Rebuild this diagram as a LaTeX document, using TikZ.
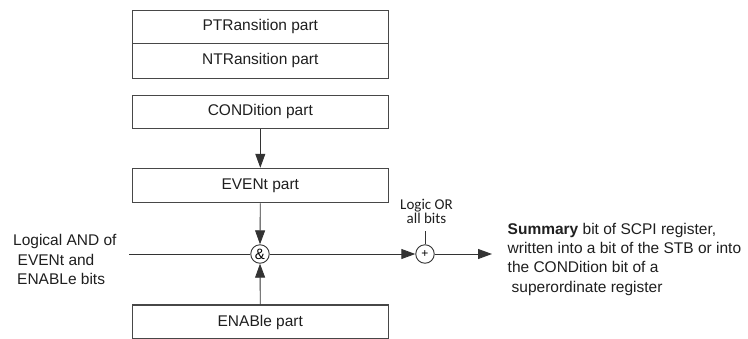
\documentclass[tikz,border=0pt]{standalone}
\usepackage{fontspec}
\setmainfont{Liberation Sans}
\newfontfamily\calib{Carlito}
\usetikzlibrary{arrows.meta}
\begin{document}
\begin{tikzpicture}[x=1pt,y=-1pt,
  box/.style={draw=black!72, line width=1.1pt, minimum width=256pt, inner sep=0pt,
    font=\fontsize{15.5}{18}\selectfont, text=black!88},
  gate/.style={circle, draw=black!80, line width=0.9pt, minimum size=18.5pt, inner sep=0pt},
  conn/.style={draw=black!80, line width=0.9pt},
  arr/.style={conn, -{Triangle[length=14pt,width=10pt]}},
  lbl/.style={inner sep=0pt, font=\fontsize{15.5}{19.3}\selectfont, align=left, text=black!88}]
\clip (0,0) rectangle (748,338);
\fill[white] (0,0) rectangle (748,338);
% boxes
\node[box, minimum height=33.3pt] (pt) at (260.3,26.7) {PTRansition part};
\node[box, minimum height=35pt] (nt) at (260.3,60.8) {NTRansition part};
\node[box, minimum height=33.3pt] (cond) at (260.3,111.7) {CONDition part};
\node[box, minimum height=34.4pt] (ev) at (260.3,185.5) {EVENt part};
\node[box, minimum height=34pt] (en) at (260.3,322) {ENABle part};
% gates
\node[gate, font=\fontsize{15}{15}\selectfont] (and) at (260,254) {\&};
\node[gate, font=\fontsize{12}{12}\selectfont] (or) at (425,254) {+};
% free ends
\coordinate (in) at (129,254);
\coordinate (out) at (492,254);
\coordinate (orlab) at (425,231);
% labels
\node[lbl, anchor=north west] (andlbl) at (13,234.3)
  {Logical AND of\\\hspace*{4.5pt}EVENt and\\\hspace*{4pt}ENABLe bits};
\node[lbl, anchor=north west] (sumlbl) at (507.5,222.7)
  {\textbf{Summary} bit of SCPI register,\\written into a bit of the STB or into\\the CONDition bit of a\\\hspace*{4pt}superordinate register};
\node[inner sep=0pt, align=center, anchor=south, font=\calib\fontsize{15}{14.3}\selectfont, text=black!88] (orlbl) at (426.5,224)
  {Logic OR\\all bits};
% connectors
\draw[arr] (cond.south) -- (ev.north);
\draw[arr] (ev.south) -- (and.north);
\draw[arr] (en.north) -- (and.south);
\draw[conn] (in) -- (and.west);
\draw[arr] (and.east) -- (or.west);
\draw[arr] (or.east) -- (out);
\draw[conn] (orlab) -- (or.north);
\end{tikzpicture}
\end{document}
